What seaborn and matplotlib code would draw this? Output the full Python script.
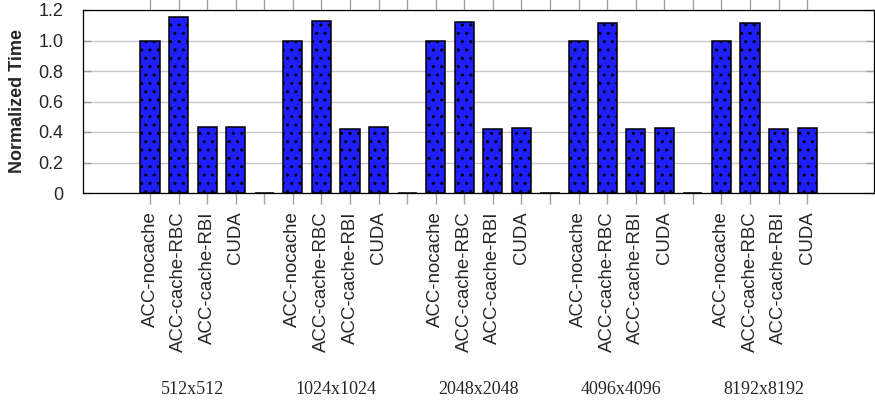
import matplotlib
matplotlib.use('Agg')
import matplotlib.pyplot as plt
import matplotlib.transforms as mtransforms
from matplotlib.ticker import FuncFormatter
import seaborn as sns
import pandas as pd

# data
sizes = ['512x512', '1024x1024', '2048x2048', '4096x4096', '8192x8192']
methods = ['ACC-nocache', 'ACC-cache-RBC', 'ACC-cache-RBI', 'CUDA']

acc_nocache = [1.0, 1.0, 1.0, 1.0, 1.0]
acc_cache_rbc = [1.151, 1.125, 1.123, 1.118, 1.112]
acc_cache_rbi = [0.432, 0.421, 0.419, 0.417, 0.417]
cuda = [0.432, 0.430, 0.428, 0.426, 0.424]

values = [acc_nocache, acc_cache_rbc, acc_cache_rbi, cuda]

# one row per slot, an empty (zero) slot between the groups
rows = []
for g, size in enumerate(sizes):
    if g > 0:
        rows.append({'slot': f'gap{g}', 'label': '', 'size': None, 'time': 0.0})
    for m, method in enumerate(methods):
        rows.append({'slot': f'{size}|{method}', 'label': method, 'size': size, 'time': values[m][g]})
df = pd.DataFrame(rows)
order = list(df['slot'])

sns.set_style('white')
plt.rcParams['font.family'] = ['Liberation Sans', 'DejaVu Sans']
plt.rcParams['hatch.linewidth'] = 1.0

fig = plt.figure(figsize=(8.75, 4.05), dpi=100)
ax = fig.add_axes([83 / 875, 1 - 193 / 405, (874 - 83) / 875, (193 - 10) / 405])

sns.barplot(data=df, x='slot', y='time', order=order, color='#1e1eff', saturation=1,
            width=0.67, edgecolor='black', linewidth=1.1, hatch='..', errorbar=None, ax=ax)

ax.set_xlim(-2.345, 25.34)
ax.set_ylim(0, 1.2)
ax.set_xticks(range(len(order)))
ax.set_xticklabels(df['label'], rotation=90, fontsize=13.4)
ax.set_yticks([0, 0.2, 0.4, 0.6, 0.8, 1.0, 1.2])
ax.yaxis.set_major_formatter(FuncFormatter(lambda v, p: '0' if v == 0 else f'{v:.1f}'))
ax.tick_params(axis='y', labelsize=13, left=True, right=True, direction='in',
               length=6, width=1, color='#a0a0a0', pad=14)
ax.tick_params(axis='x', top=True, bottom=True, labeltop=False, direction='out',
               length=8, width=1, color='#a0a0a0', pad=5)

ax.set_axisbelow(True)
ax.yaxis.grid(True, color='#c8c8c8', linewidth=1)
ax.xaxis.grid(False)
for s in ax.spines.values():
    s.set_visible(True)
    s.set_color('black')
    s.set_linewidth(0.9)

ax.set_xlabel('')
ax.set_ylabel('')
fig.text(18 / 875, 1 - 101 / 405, 'Normalized Time', rotation=90, ha='center', va='center',
         fontsize=13, fontweight='bold')

# group labels under each block of four bars
trans = mtransforms.blended_transform_factory(ax.transData, fig.transFigure)
for size in sizes:
    idx = [order.index(s) for s in order if s.startswith(size + '|')]
    ax.text(sum(idx) / len(idx), 1 - 389 / 405, size, transform=trans, ha='center', va='center',
            fontsize=13, family='Liberation Serif')

plt.savefig('out.png', dpi=100)
plt.close()
